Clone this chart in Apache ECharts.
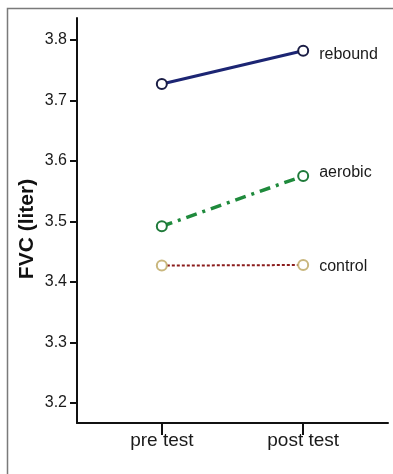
<!DOCTYPE html>
<html>
<head>
<meta charset="utf-8">
<script src="https://cdn.jsdelivr.net/npm/echarts@6/dist/echarts.min.js"></script>
<style>
  html, body { margin: 0; padding: 0; background: #fff; }
  #chart { width: 393px; height: 474px; }
</style>
</head>
<body>
<div id="chart"></div>
<script>
// categories on the x axis
var categories = ['pre test', 'post test'];
// FVC means (liter)
var rebound = [3.727, 3.782];
var aerobic = [3.492, 3.575];
var control = [3.427, 3.428];
var yTicks = [3.2, 3.3, 3.4, 3.5, 3.6, 3.7, 3.8];
var yTitle = 'FVC (liter)';

function toData(arr) {
  return arr.map(function (v, i) {
    var item = { value: [i, v] };
    if (i === arr.length - 1) item.label = { show: true };
    return item;
  });
}

var myChart = echarts.init(document.getElementById('chart'));
function endLabel(text, dy) {
  return {
    formatter: text,
    position: 'right',
    distance: 10,
    offset: [0, dy],
    color: '#1a1a1a',
    fontSize: 16,
    fontFamily: 'Liberation Sans, Arial, sans-serif'
  };
}

var option = {
  animation: false,
  graphic: [{
    type: 'rect',
    shape: { x: 7.5, y: 8.5, width: 400, height: 480 },
    style: { fill: 'none', stroke: '#7a7a7a', lineWidth: 1.5 },
    silent: true
  }, {
    // y axis title, placed by hand so it sits where the original has it
    type: 'text',
    x: 27,
    y: 229,
    rotation: Math.PI / 2,
    style: {
      text: yTitle,
      fill: '#111',
      font: 'bold 21px "Liberation Sans", Arial, sans-serif',
      align: 'center',
      verticalAlign: 'middle'
    },
    silent: true
  }],
  grid: { left: 77, top: 18, right: 5, bottom: 51 },
  xAxis: {
    type: 'value',
    min: -0.6,
    max: 1.6,
    splitLine: { show: false },
    axisLine: { onZero: false, lineStyle: { color: '#111', width: 2 } },
    axisTick: { customValues: [0, 1], length: 12, lineStyle: { color: '#111', width: 2 } },
    axisLabel: {
      customValues: [0, 1],
      formatter: function (v) { return categories[Math.round(v)]; },
      color: '#1a1a1a',
      fontSize: 19,
      margin: 8,
      fontFamily: 'Liberation Sans, Arial, sans-serif'
    }
  },
  yAxis: {
    type: 'value',
    min: 3.167,
    max: 3.836,
    splitLine: { show: false },
    axisLine: { show: true, onZero: false, lineStyle: { color: '#111', width: 2 } },
    axisTick: { show: true, customValues: yTicks, length: 7, lineStyle: { color: '#111', width: 2 } },
    axisLabel: {
      customValues: yTicks,
      formatter: function (v) { return v.toFixed(1); },
      color: '#1a1a1a',
      fontSize: 16,
      margin: 10,
      fontFamily: 'Liberation Sans, Arial, sans-serif'
    }
  },
  series: [{
    name: 'rebound',
    type: 'line',
    data: toData(rebound),
    symbol: 'circle',
    symbolSize: 10,
    lineStyle: { color: '#1c2573', width: 3 },
    itemStyle: { color: '#fff', borderColor: '#1a1d45', borderWidth: 2 },
    label: endLabel('rebound', 4)
  }, {
    name: 'aerobic',
    type: 'line',
    data: toData(aerobic),
    symbol: 'circle',
    symbolSize: 10,
    lineStyle: { color: '#1f8a3c', width: 3.5, type: [11, 6, 3, 6] },
    itemStyle: { color: '#fff', borderColor: '#1f7a3a', borderWidth: 2 },
    label: endLabel('aerobic', -3)
  }, {
    name: 'control',
    type: 'line',
    data: toData(control),
    symbol: 'circle',
    symbolSize: 10,
    lineStyle: { color: '#8b1c1c', width: 2, type: [3, 2] },
    itemStyle: { color: '#fff', borderColor: '#c9b77e', borderWidth: 2 },
    label: endLabel('control', 2)
  }]
};

myChart.setOption(option);
window.addEventListener('resize', function () {
  myChart.resize();
}, true);
</script>
</body>
</html>
